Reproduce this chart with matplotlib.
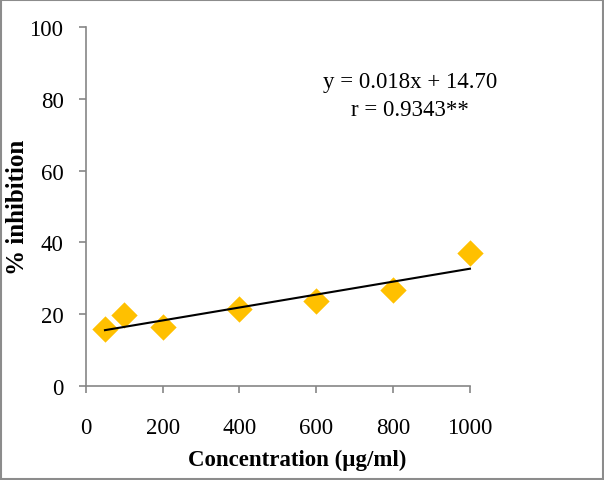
import matplotlib
matplotlib.use("Agg")
import matplotlib.pyplot as plt
import numpy as np

conc = [50, 100, 200, 400, 600, 800, 1000]
inhibition = [15.8, 19.8, 16.5, 21.4, 23.6, 26.8, 37.2]
slope = 0.018
intercept = 14.70
eq_text = "y = 0.018x + 14.70\nr = 0.9343**"
xticks = [0, 200, 400, 600, 800, 1000]
yticks = [0, 20, 40, 60, 80, 100]

plt.rcParams['font.family'] = ['Liberation Serif', 'DejaVu Serif']

fig = plt.figure(figsize=(6.04, 4.81), dpi=100)
ax = fig.add_axes([0.142, 0.195, 0.636, 0.747])

ax.scatter(conc, inhibition, marker='D', s=180, color='#FFC000', zorder=3, linewidths=0, clip_on=False)
xf = np.array([min(conc), max(conc)])
ax.plot(xf, slope * xf + intercept, color='black', lw=1.5, zorder=4, clip_on=False)

ax.set_xlim(0, 1000)
ax.set_ylim(0, 100)
ax.set_xticks(xticks)
ax.set_yticks(yticks)
ax.tick_params(axis='both', labelsize=16.5, colors='#868686', labelcolor='black', length=5, width=1.2, direction='out')
ax.tick_params(axis='y', pad=11)
ax.tick_params(axis='x', pad=17)
for s in ['top', 'right']:
    ax.spines[s].set_visible(False)
for s in ['left', 'bottom']:
    ax.spines[s].set_color('#868686')
    ax.spines[s].set_linewidth(1.2)

ax.set_xlabel('Concentration (µg/ml)', fontsize=16.5, fontweight='bold', va='center')
ax.xaxis.set_label_coords(0.551, -0.203)
ax.set_ylabel('% inhibition', fontsize=18, fontweight='bold', va='center')
ax.yaxis.set_label_coords(-0.177, 0.5)

ax.text(0.845, 0.81, eq_text, transform=ax.transAxes, ha='center', va='center',
        fontsize=16.5, linespacing=1.45)

fig.patches.append(plt.Rectangle((0.002, 0.002), 0.996, 0.996, transform=fig.transFigure,
                                 fill=False, edgecolor='#8c8c8c', lw=1.5))

fig.savefig('out.png', dpi=100)
